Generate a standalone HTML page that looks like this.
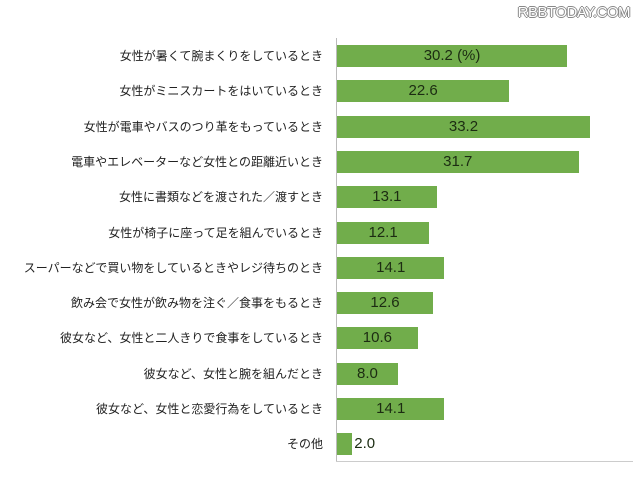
<!DOCTYPE html>
<html><head><meta charset="utf-8"><style>
body{margin:0;width:640px;height:480px;background:#fff;position:relative;overflow:hidden;font-family:"Liberation Sans","Noto Sans CJK JP",sans-serif}
.l{position:absolute;right:317px;font-size:12px;color:#222;white-space:nowrap;height:22px;line-height:22px}
.b{position:absolute;left:337px;height:22px;background:#71ad4b}
.v{position:absolute;font-size:15px;color:#1c2c12;height:22px;line-height:22px;text-align:center}
</style></head><body>
<div style="position:absolute;right:10px;top:4px;font-size:15px;color:#fff;letter-spacing:-0.5px;text-shadow:1px 0 #888,-1px 0 #888,0 1px #888,0 -1px #888">RBBTODAY.COM</div>
<div style="position:absolute;left:336px;top:38px;width:1px;height:424px;background:#bbb"></div>
<div style="position:absolute;left:336px;top:461px;width:297px;height:1px;background:#ccc"></div>
<div id="c"></div>
<script>
var d=[["女性が暑くて腕まくりをしているとき",30.2,"30.2 (%)"],["女性がミニスカートをはいているとき",22.6],["女性が電車やバスのつり革をもっているとき",33.2],["電車やエレベーターなど女性との距離近いとき",31.7],["女性に書類などを渡された／渡すとき",13.1],["女性が椅子に座って足を組んでいるとき",12.1],["スーパーなどで買い物をしているときやレジ待ちのとき",14.1],["飲み会で女性が飲み物を注ぐ／食事をもるとき",12.6],["彼女など、女性と二人きりで食事をしているとき",10.6],["彼女など、女性と腕を組んだとき",8.0],["彼女など、女性と恋愛行為をしているとき",14.1],["その他",2.0]];
var h="";d.forEach(function(r,i){var y=45+i*35.3,w=r[1]*7.62,t=r[2]||r[1].toFixed(1);
h+='<div class="l" style="top:'+y+'px">'+r[0]+'</div><div class="b" style="top:'+y+'px;width:'+w+'px"></div>';
if(i==11)h+='<div class="v" style="top:'+y+'px;left:'+(339+w)+'px">'+t+'</div>';
else h+='<div class="v" style="top:'+y+'px;left:337px;width:'+w+'px">'+t+'</div>';});
document.getElementById("c").innerHTML=h;
</script>
</body></html>
